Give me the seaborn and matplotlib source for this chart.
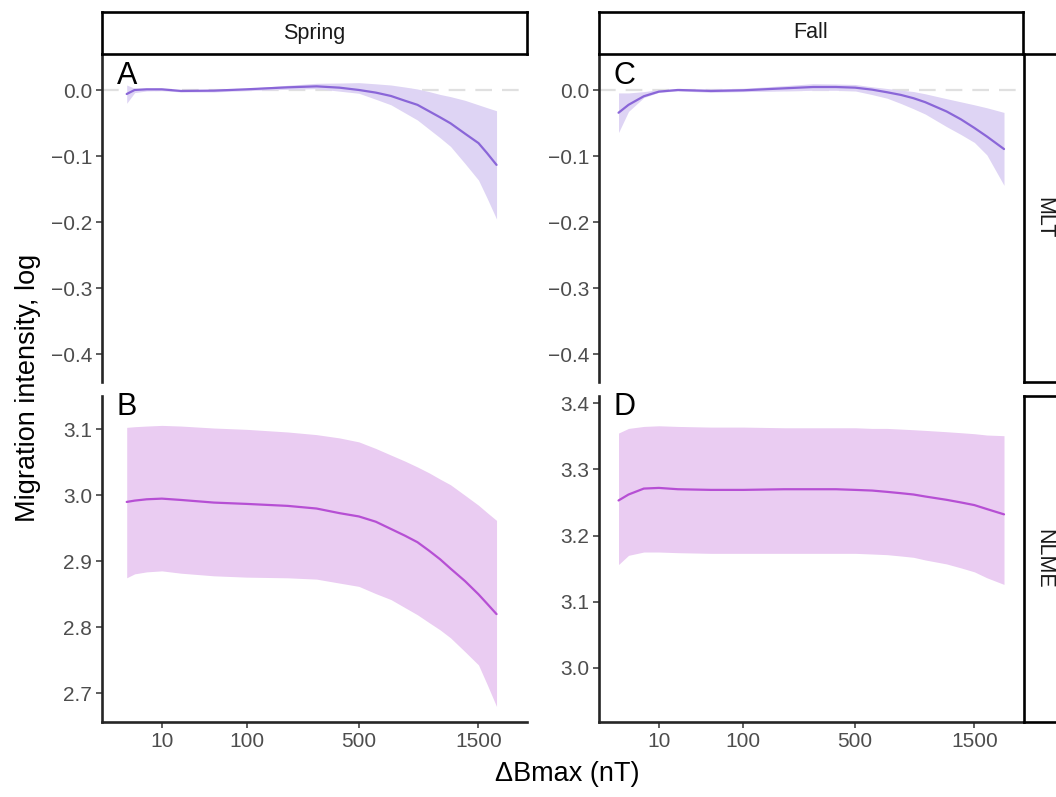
import numpy as np
import pandas as pd
import seaborn as sns
import matplotlib.pyplot as plt

# x grids (nT) for each season
x_spring = [1.42, 2.5, 5, 10, 20, 50, 100, 200, 300, 400, 500, 600, 700, 800, 900, 1000, 1100, 1200, 1350, 1500, 1600, 1718]
x_fall = [0.9, 2, 5, 10, 20, 50, 100, 200, 300, 400, 500, 600, 700, 800, 900, 1000, 1200, 1350, 1500, 1650, 1870]

# MLT, spring (A)
a_fit = [-0.0056, 0.0005, 0.0015, 0.0015, -0.001, -0.0005, 0.0015, 0.0045, 0.006, 0.004, 0.0005,
         -0.0035, -0.0086, -0.0157, -0.022, -0.0318, -0.041, -0.050, -0.0657, -0.080, -0.095, -0.113]
a_hi = [0.008, 0.003, 0.002, 0.002, 0.0005, 0.001, 0.003, 0.0076, 0.0106, 0.011, 0.0116,
        0.0098, 0.008, 0.005, 0.002, -0.002, -0.0063, -0.0096, -0.0152, -0.022, -0.0263, -0.031]
a_lo = [-0.0197, -0.0035, -0.001, -0.0005, -0.0025, -0.0025, -0.0005, 0.0015, 0.0025, -0.0013, -0.0045,
        -0.0136, -0.022, -0.034, -0.045, -0.059, -0.072, -0.085, -0.111, -0.136, -0.163, -0.195]

# NLME, spring (B)
b_fit = [2.990, 2.992, 2.994, 2.995, 2.993, 2.989, 2.987, 2.984, 2.980, 2.973, 2.968,
         2.960, 2.949, 2.939, 2.929, 2.916, 2.903, 2.889, 2.870, 2.850, 2.836, 2.820]
b_hi = [3.103, 3.104, 3.105, 3.106, 3.105, 3.102, 3.100, 3.096, 3.092, 3.087, 3.081,
        3.071, 3.061, 3.052, 3.043, 3.034, 3.0245, 3.016, 3.000, 2.985, 2.974, 2.962]
b_lo = [2.875, 2.881, 2.884, 2.8855, 2.882, 2.878, 2.876, 2.875, 2.873, 2.867, 2.862,
        2.851, 2.842, 2.830, 2.819, 2.807, 2.796, 2.784, 2.763, 2.743, 2.714, 2.680]

# MLT, fall (C)
c_fit = [-0.034, -0.022, -0.009, -0.002, 0.0005, -0.001, 0.0, 0.003, 0.005, 0.005, 0.004,
         0.001, -0.003, -0.007, -0.012, -0.018, -0.032, -0.044, -0.057, -0.070, -0.089]
c_hi = [-0.004, -0.004, -0.002, 0.001, 0.002, 0.002, 0.003, 0.007, 0.010, 0.0095, 0.0088,
        0.0053, 0.0027, 0.0003, -0.0019, -0.0053, -0.0127, -0.0175, -0.022, -0.0265, -0.0335]
c_lo = [-0.064, -0.032, -0.011, -0.003, -0.001, -0.003, -0.002, -0.001, 0.0, 0.0, -0.001,
        -0.0065, -0.012, -0.020, -0.028, -0.036, -0.055, -0.067, -0.079, -0.098, -0.144]

# NLME, fall (D)
d_fit = [3.253, 3.262, 3.271, 3.272, 3.270, 3.269, 3.269, 3.270, 3.270, 3.270, 3.269,
         3.268, 3.266, 3.264, 3.262, 3.259, 3.254, 3.250, 3.246, 3.240, 3.232]
d_hi = [3.355, 3.362, 3.365, 3.366, 3.365, 3.364, 3.364, 3.363, 3.363, 3.363, 3.363,
        3.362, 3.362, 3.361, 3.360, 3.359, 3.357, 3.3555, 3.354, 3.352, 3.351]
d_lo = [3.156, 3.170, 3.175, 3.175, 3.174, 3.173, 3.173, 3.173, 3.173, 3.173, 3.173,
        3.172, 3.171, 3.169, 3.167, 3.163, 3.157, 3.151, 3.145, 3.136, 3.126]

x_ticks = [10, 100, 500, 1500]
seasons = ["Spring", "Fall"]
models = ["MLT", "NLME"]

rows = []
for season, model, xs, fit, lo, hi in [
    ("Spring", "MLT", x_spring, a_fit, a_lo, a_hi),
    ("Spring", "NLME", x_spring, b_fit, b_lo, b_hi),
    ("Fall", "MLT", x_fall, c_fit, c_lo, c_hi),
    ("Fall", "NLME", x_fall, d_fit, d_lo, d_hi),
]:
    for i in range(len(xs)):
        rows.append({"season": season, "model": model, "x": xs[i],
                     "fit": fit[i], "lo": lo[i], "hi": hi[i]})
df = pd.DataFrame(rows)

sns.set_theme(style="ticks")
plt.rcParams['font.family'] = ['Liberation Sans', 'DejaVu Sans']

W, H = 1056, 797
fig = plt.figure(figsize=(W / 100, H / 100), dpi=100)

def fx(px):
    return px / W

def fy(py):
    return 1 - py / H

col_x = {"Spring": (101.7, 527.3), "Fall": (599, 1023)}
row_y = {"MLT": (54, 381.7), "NLME": (395.7, 722.3)}
ylims = {("Spring", "MLT"): (-0.4415, 0.055), ("Fall", "MLT"): (-0.4415, 0.055),
         ("Spring", "NLME"): (2.656, 3.151), ("Fall", "NLME"): (2.9174, 3.4115)}
yticks = {("Spring", "MLT"): [-0.4, -0.3, -0.2, -0.1, 0.0], ("Fall", "MLT"): [-0.4, -0.3, -0.2, -0.1, 0.0],
          ("Spring", "NLME"): [2.7, 2.8, 2.9, 3.0, 3.1], ("Fall", "NLME"): [3.0, 3.1, 3.2, 3.3, 3.4]}
letters = {("Spring", "MLT"): "A", ("Spring", "NLME"): "B", ("Fall", "MLT"): "C", ("Fall", "NLME"): "D"}
line_col = {"MLT": "#8a66d8", "NLME": "#b64fd4"}
fill_col = {"MLT": "#ded4f4", "NLME": "#eaccf2"}

spine_lw = 1.9
for season in seasons:
    x0, x1 = col_x[season]
    for model in models:
        y0, y1 = row_y[model]
        ax = fig.add_axes([fx(x0), fy(y1), fx(x1 - x0), (y1 - y0) / H])
        sub = df[(df.season == season) & (df.model == model)]
        ax.set_xscale('function', functions=(np.cbrt, lambda v: np.power(v, 3)))
        if model == "MLT":
            ax.axhline(0, color="#e0e0e0", lw=1.6, dashes=(7.5, 4.5), zorder=0)
        ax.fill_between(sub.x, sub.lo, sub.hi, color=fill_col[model], lw=0, zorder=1)
        sns.lineplot(data=sub, x="x", y="fit", color=line_col[model], lw=1.6, ax=ax, zorder=2)
        ax.set_xlim(0.0593, 2136.6)
        ax.set_ylim(*ylims[(season, model)])
        ax.set_yticks(yticks[(season, model)])
        ax.set_yticklabels([f"{v:.1f}".replace("-", "\u2212") for v in yticks[(season, model)]])
        ax.set_xlabel("")
        ax.set_ylabel("")
        sns.despine(ax=ax)
        ax.spines['left'].set_linewidth(spine_lw)
        ax.spines['bottom'].set_linewidth(spine_lw)
        ax.tick_params(axis='both', length=4, width=1.1, color="#333333",
                       labelsize=15, labelcolor="#4d4d4d", pad=3)
        if model == "MLT":
            ax.spines['bottom'].set_visible(False)
            ax.set_xticks([])
        else:
            ax.set_xticks(x_ticks)
            ax.set_xticklabels([str(t) for t in x_ticks])
            ax.minorticks_off()
        ty = 0.979 if model == "MLT" else 1.011
        ax.text(0.035, ty, letters[(season, model)], transform=ax.transAxes,
                ha="left", va="top", fontsize=22, color="black", clip_on=False)

# top strips
for season in seasons:
    x0, x1 = col_x[season]
    sax = fig.add_axes([fx(x0), fy(54), fx(x1 - x0), 42 / H])
    sax.set_xticks([])
    sax.set_yticks([])
    for s in sax.spines.values():
        s.set_linewidth(spine_lw)
        s.set_color("black")
    sax.text(0.5, 0.5, season, ha="center", va="center", fontsize=15.5, color="#1a1a1a",
             transform=sax.transAxes)

# right strips
for model in models:
    y0, y1 = row_y[model]
    rax = fig.add_axes([fx(1024), fy(y1), fx(40), (y1 - y0) / H])
    rax.set_xticks([])
    rax.set_yticks([])
    for s in rax.spines.values():
        s.set_linewidth(spine_lw)
        s.set_color("black")
    rax.text(0.5, 0.5, model, ha="center", va="center", rotation=-90, fontsize=15.5,
             color="#1a1a1a", transform=rax.transAxes)

fig.text(fx(28), fy(388), "Migration intensity, log", rotation=90, ha="center", va="center",
         fontsize=19.5, color="black")
fig.text(fx(567), fy(774), "\u0394Bmax (nT)", ha="center", va="center", fontsize=19.5, color="black")

fig.savefig("out.png", dpi=100)
